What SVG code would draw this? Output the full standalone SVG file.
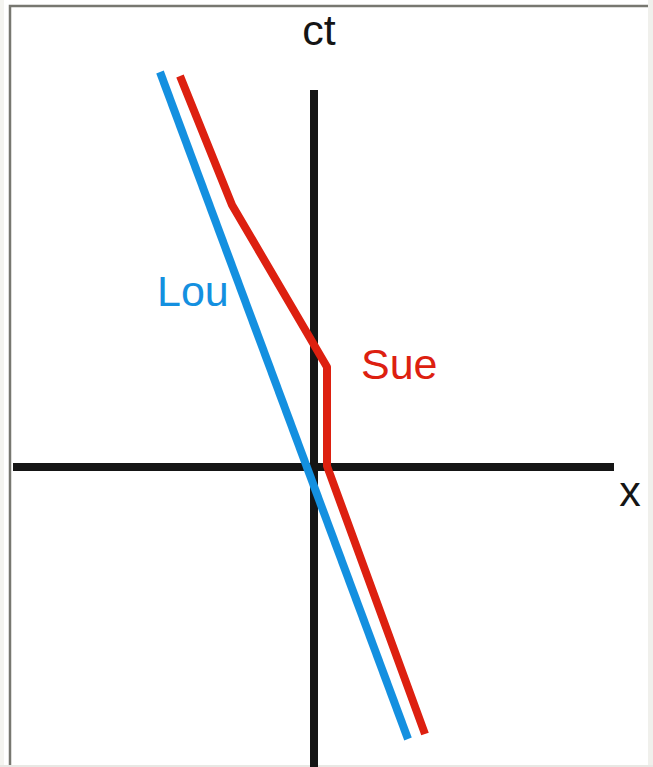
<svg xmlns="http://www.w3.org/2000/svg" width="653" height="767" viewBox="0 0 653 767">
<style>
.lbl{font-family:"Liberation Sans",Arial,sans-serif;font-size:43px}
.ax{stroke:#151515;stroke-width:8;fill:none}
.wl{stroke-width:8;fill:none;stroke-linejoin:round}
</style>
<rect x="0" y="0" width="653" height="767" fill="#f4f4f0"/>
<rect x="4" y="0" width="645" height="767" fill="#ffffff"/>
<rect x="10" y="6" width="638" height="759" fill="#ffffff"/>
<path d="M10,767 V6 H648" stroke="#777770" stroke-width="2.5" fill="none"/>
<rect x="648" y="0" width="5" height="767" fill="#f0f0ec"/>
<rect x="0" y="765" width="653" height="2" fill="#e8e8e4"/>
<g id="axes">
<line class="ax" x1="314" y1="90" x2="314" y2="767"/>
<line class="ax" x1="13" y1="467" x2="614" y2="467"/>
</g>
<g id="connectors">
<line id="lou-line" class="wl" stroke="#1490e0" x1="160" y1="72" x2="408" y2="739"/>
<polyline id="sue-line" class="wl" stroke="#dd2010" points="180,76 232,205 327,367 327,466 425,734"/>
</g>
<g id="label-ct"><text class="lbl" x="319" y="45" text-anchor="middle" fill="#151515">ct</text></g>
<g id="label-x"><text class="lbl" x="630" y="506" text-anchor="middle" fill="#151515">x</text></g>
<g id="label-lou"><text class="lbl" x="157" y="306" fill="#1490e0">Lou</text></g>
<g id="label-sue"><text class="lbl" x="361" y="379" fill="#dd2010">Sue</text></g>
</svg>
